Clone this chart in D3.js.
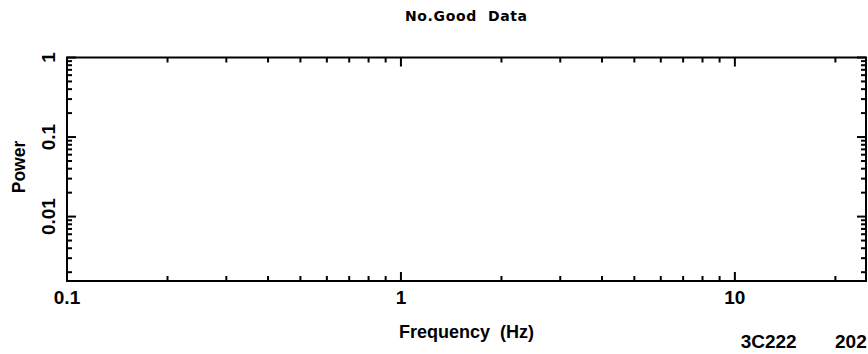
<!DOCTYPE html>
<html>
<head>
<meta charset="utf-8">
<script src="https://cdn.jsdelivr.net/npm/d3@7"></script>
<style>
  html, body { margin: 0; padding: 0; background: #fff; }
  svg { display: block; }
  text { font-family: "Liberation Sans", Arial, sans-serif; font-weight: bold; fill: #000; white-space: pre; }
</style>
</head>
<body>
<svg id="chart" width="868" height="354"></svg>
<script>
// Power spectrum frame: log-log axes, no valid data points to plot
const title = "No.Good  Data";
const xLabel = "Frequency  (Hz)";
const yLabel = "Power";
const sourceName = "3C222";
const dateStamp = "202";

const xDomain = [0.1, 24.7];
const yDomain = [0.00155, 1];
const xTickLabels = [0.1, 1, 10];
const yTickLabels = [0.01, 0.1, 1];
const freq = [];   // frequencies (Hz)
const power = [];  // power values

const svg = d3.select("#chart");
const plotLeft = 67, plotRight = 866, plotTop = 57.5, plotBottom = 281;

const x = d3.scaleLog().domain(xDomain).range([plotLeft, plotRight]);
const y = d3.scaleLog().domain(yDomain).range([plotBottom, plotTop]);

const isMajor = v => Math.abs(Math.log10(v) - Math.round(Math.log10(v))) < 1e-9;

const g = svg.append("g")
  .attr("stroke", "#000")
  .attr("stroke-width", 2)
  .attr("fill", "none");

const majorLen = 9, minorLen = 5;

// x ticks, bottom and top
x.ticks().forEach(v => {
  const len = isMajor(v) ? majorLen : minorLen;
  const px = x(v);
  g.append("line").attr("x1", px).attr("x2", px).attr("y1", plotBottom).attr("y2", plotBottom - len);
  g.append("line").attr("x1", px).attr("x2", px).attr("y1", plotTop).attr("y2", plotTop + len);
});

// y ticks, left and right
y.ticks().forEach(v => {
  const len = isMajor(v) ? majorLen : minorLen;
  const py = y(v);
  g.append("line").attr("x1", plotLeft).attr("x2", plotLeft + len).attr("y1", py).attr("y2", py);
  g.append("line").attr("x1", plotRight).attr("x2", plotRight - len).attr("y1", py).attr("y2", py);
});

// frame
g.append("rect")
  .attr("x", plotLeft).attr("y", plotTop)
  .attr("width", plotRight - plotLeft).attr("height", plotBottom - plotTop);

// data (none available)
svg.append("g").selectAll("circle")
  .data(d3.zip(freq, power))
  .join("circle")
  .attr("cx", d => x(d[0])).attr("cy", d => y(d[1])).attr("r", 1.5);

// x tick labels
svg.append("g").selectAll("text")
  .data(xTickLabels)
  .join("text")
  .attr("x", d => x(d))
  .attr("y", 304)
  .attr("text-anchor", "middle")
  .attr("font-size", 19)
  .text(d => d3.format("~g")(d));

// y tick labels (rotated)
svg.append("g").selectAll("text")
  .data(yTickLabels)
  .join("text")
  .attr("transform", d => `translate(55,${y(d)}) rotate(-90)`)
  .attr("text-anchor", "middle")
  .attr("font-size", 19)
  .text(d => d3.format("~g")(d));

// title
svg.append("text")
  .attr("x", 466).attr("y", 20.7)
  .attr("text-anchor", "middle")
  .style("font-family", "'DejaVu Sans', sans-serif")
  .attr("font-size", 14)
  .attr("textLength", 122)
  .attr("lengthAdjust", "spacing")
  .text(title);

// axis titles
svg.append("text")
  .attr("x", 466.5).attr("y", 338)
  .attr("text-anchor", "middle")
  .attr("font-size", 18)
  .attr("textLength", 135)
  .attr("lengthAdjust", "spacing")
  .text(xLabel);

svg.append("text")
  .attr("transform", "translate(25,167) rotate(-90)")
  .attr("text-anchor", "middle")
  .attr("font-size", 17.5)
  .text(yLabel);

// source and date stamp
svg.append("text")
  .attr("x", 740.7).attr("y", 348)
  .attr("font-size", 19)
  .text(sourceName);

svg.append("text")
  .attr("x", 835).attr("y", 348)
  .attr("font-size", 19)
  .text(dateStamp);
</script>
</body>
</html>
